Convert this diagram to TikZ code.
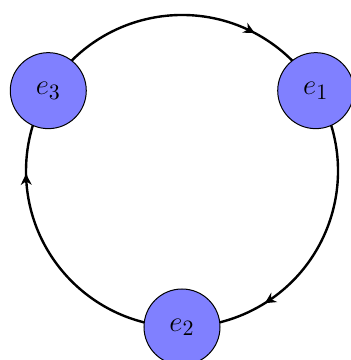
\documentclass[tikz,border=0pt]{standalone}
\usetikzlibrary{arrows.meta,decorations.markings,backgrounds,calc}
\begin{document}
\begin{tikzpicture}[x=0.5pt,y=0.5pt,
  vert/.style={circle,draw=black,line width=0.5pt,fill=blue!50,minimum size=38pt,inner sep=0pt,font=\fontsize{15}{18}\selectfont},
  flow/.style={line width=1.2pt,postaction={decorate},
    decoration={markings,mark=at position 0.735 with {\arrow{Stealth[length=5.5pt,width=5.5pt,inset=1.8pt]}}}}]
\useasboundingbox (0,0) rectangle (351,360);
\coordinate (c) at (182,189);
\node[vert] (e1) at ($(c)+(31:156)$) {$e_1$};
\node[vert] (e2) at ($(c)+(270:156)$) {$e_2$};
\node[vert] (e3) at ($(c)+(149:156)$) {$e_3$};
\begin{scope}[on background layer]
\draw[flow] (e3.center) arc[start angle=149,end angle=31,radius=156];
\draw[flow] (e1.center) arc[start angle=31,end angle=-90,radius=156];
\draw[flow] (e2.center) arc[start angle=270,end angle=149,radius=156];
\end{scope}
\end{tikzpicture}
\end{document}
